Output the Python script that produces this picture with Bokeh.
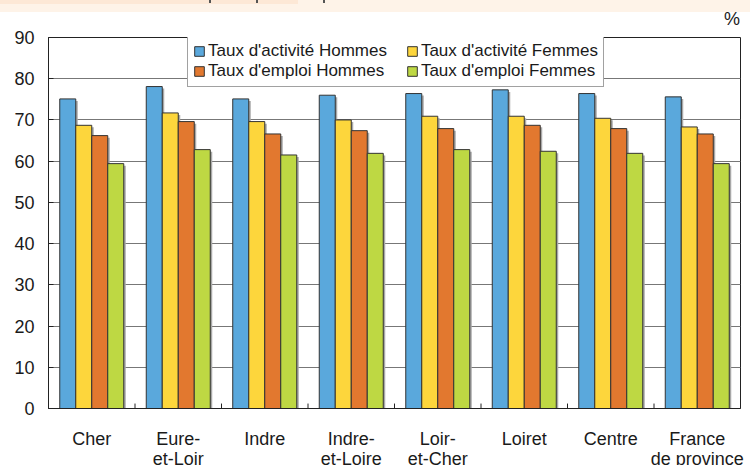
from bokeh.plotting import figure
from bokeh.models import ColumnDataSource, Legend, LegendItem, FixedTicker, Div
from bokeh.layouts import column
from bokeh.transform import dodge
from bokeh.embed import file_html
from bokeh.resources import INLINE

categories = ["Cher", "Eure-\net-Loir", "Indre", "Indre-\net-Loire", "Loir-\net-Cher", "Loiret", "Centre", "France\nde province"]
act_hommes = [75.1, 78.1, 75.1, 76.0, 76.4, 77.3, 76.4, 75.6]
act_femmes = [68.7, 71.7, 69.6, 70.0, 70.9, 70.9, 70.4, 68.3]
emp_hommes = [66.2, 69.6, 66.6, 67.4, 67.9, 68.7, 67.9, 66.6]
emp_femmes = [59.4, 62.8, 61.5, 61.9, 62.8, 62.4, 61.9, 59.4]
series_names = ["Taux d'activité Hommes", "Taux d'activité Femmes", "Taux d'emploi Hommes", "Taux d'emploi Femmes"]
colors = ["#5aa8dc", "#fdd63c", "#e2782f", "#bed843"]
y_ticks = [0, 10, 20, 30, 40, 50, 60, 70, 80, 90]
unit_label = "%"

FONT = "Liberation Sans"
TXT = "#1a1a1a"

src = ColumnDataSource(dict(cat=categories, s0=act_hommes, s1=act_femmes, s2=emp_hommes, s3=emp_femmes,
                            sh0=[v - 0.5 for v in act_hommes], sh1=[v - 0.5 for v in act_femmes],
                            sh2=[v - 0.5 for v in emp_hommes], sh3=[v - 0.5 for v in emp_femmes]))
tick_src = ColumnDataSource(dict(cat=categories[1:], y0=[0] * 7, y1=[1.2] * 7))

p = figure(x_range=categories, y_range=(0, 90), frame_width=692, frame_height=371,
           output_backend="svg", toolbar_location=None,
           min_border_left=48, min_border_right=10, min_border_top=12, min_border_bottom=57)
p.background_fill_color = "white"
p.border_fill_color = "white"
p.outline_line_color = "#222222"
p.outline_line_width = 1

bw = 16 / 86.5
offsets = [-1.5 * bw, -0.5 * bw, 0.5 * bw, 1.5 * bw]
sh = 2 / 86.5

# shadows
for i in range(4):
    p.vbar(x=dodge("cat", offsets[i] + sh, range=p.x_range), top="sh%d" % i, bottom=0, width=bw,
           source=src, fill_color="#a8a8a8", line_color=None)

renderers = []
for i in range(4):
    r = p.vbar(x=dodge("cat", offsets[i], range=p.x_range), top="s%d" % i, bottom=0, width=bw,
               source=src, fill_color=colors[i], line_color="#333333", line_width=1)
    renderers.append(r)

# category boundary ticks
p.segment(x0=dodge("cat", -0.5, range=p.x_range), x1=dodge("cat", -0.5, range=p.x_range),
          y0="y0", y1="y1", source=tick_src, line_color="#222222", line_width=1)

p.yaxis.ticker = FixedTicker(ticks=y_ticks)
p.yaxis.major_tick_in = 5
p.yaxis.major_tick_out = 0
p.yaxis.minor_tick_line_color = None
p.yaxis.axis_line_color = "#222222"
p.yaxis.major_tick_line_color = "#222222"
p.yaxis.major_label_text_font = FONT
p.yaxis.major_label_text_font_size = "18px"
p.yaxis.major_label_text_color = TXT
p.yaxis.major_label_standoff = 14

p.xaxis.major_tick_line_color = None
p.xaxis.axis_line_color = "#222222"
p.xaxis.major_label_text_font = FONT
p.xaxis.major_label_text_font_size = "18px"
p.xaxis.major_label_text_color = TXT
p.xaxis.major_label_standoff = 14
p.xaxis.major_label_text_line_height = 1.0

p.xgrid.grid_line_color = None
p.ygrid.ticker = FixedTicker(ticks=y_ticks)
p.ygrid.grid_line_color = "#777777"
p.ygrid.grid_line_width = 1

order = [0, 2, 1, 3]
pad_labels = [series_names[0] + "    ", series_names[1], series_names[2] + "    ", series_names[3]]
legend = Legend(items=[LegendItem(label=pad_labels[i], renderers=[renderers[i]]) for i in order],
                location=(139, 321), ncols=2)
legend.label_text_font = FONT
legend.label_text_font_size = "17px"
legend.label_text_line_height = 0.95
legend.label_text_color = TXT
legend.glyph_width = 12
legend.glyph_height = 12
legend.label_standoff = 3
legend.label_height = 17
legend.spacing = 0
legend.padding = 5
legend.margin = 0
legend.border_line_color = "#444444"
legend.border_line_width = 1
legend.background_fill_color = "white"
legend.background_fill_alpha = 1
p.add_layout(legend)

header = Div(width=750, height=25, margin=0,
             text='<div style="position:relative;width:750px;height:25px;background:#ffffff;">'
                  '<div style="position:absolute;left:0;top:0;width:750px;height:12px;background:#fef3e8;"></div>'
                  '<div style="position:absolute;left:0;top:0;width:298px;height:4px;background:#fde8d6;"></div>'
                  '<div style="position:absolute;left:209px;top:0;width:2px;height:3px;background:#555;"></div>'
                  '<div style="position:absolute;left:256px;top:0;width:2px;height:3px;background:#555;"></div>'
                  '<div style="position:absolute;left:323px;top:0;width:2px;height:3px;background:#555;"></div>'
                  '<div style="position:absolute;right:10px;top:10px;font-family:\'Liberation Sans\';'
                  'font-size:18px;line-height:18px;color:#1a1a1a;">' + unit_label + '</div>'
                  '</div>')

layout = column(header, p, spacing=0)
open("out.html", "w").write(file_html(layout, INLINE))
